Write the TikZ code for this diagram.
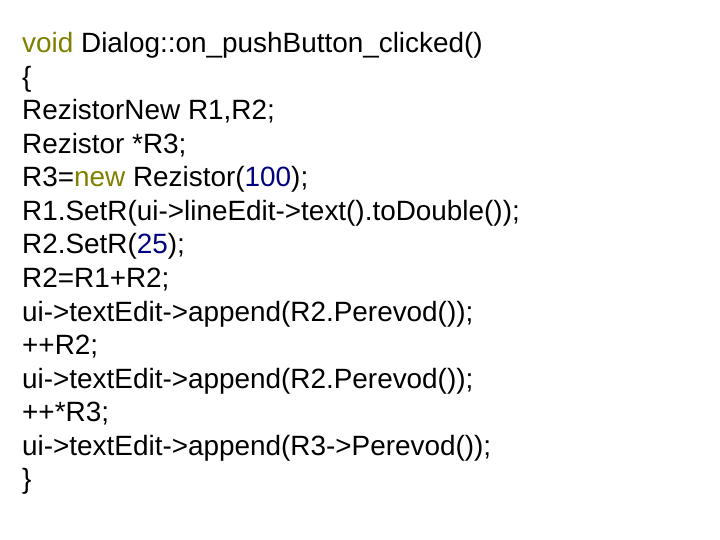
\documentclass[tikz,border=0pt]{standalone}
\usepackage{fontspec}
\setmainfont{Liberation Sans}
\definecolor{kw}{HTML}{808000}
\definecolor{num}{HTML}{000080}
\begin{document}
\begin{tikzpicture}[x=1bp,y=1bp,line/.style={anchor=base west,inner sep=0pt,font=\fontsize{28}{32}\selectfont}]
\useasboundingbox[fill=white] (0,0) rectangle (720,-540);
\node[line] (l1) at (22,-53) {\textcolor{kw}{void} Dialog::on\_pushButton\_clicked()};
\node[line] (l2) at (22,-86.5) {\{};
\node[line] (l3) at (22,-120) {RezistorNew R1,R2;};
\node[line] (l4) at (22,-153.5) {Rezistor *R3;};
\node[line] (l5) at (22,-187) {R3=\textcolor{kw}{new} Rezistor(\textcolor{num}{100});};
\node[line] (l6) at (22,-220.5) {R1.SetR(ui->lineEdit->text().toDouble());};
\node[line] (l7) at (22,-254) {R2.SetR(\textcolor{num}{25});};
\node[line] (l8) at (22,-287.5) {R2=R1+R2;};
\node[line] (l9) at (22,-321) {ui->textEdit->append(R2.Perevod());};
\node[line] (l10) at (22,-354.5) {++R2;};
\node[line] (l11) at (22,-388) {ui->textEdit->append(R2.Perevod());};
\node[line] (l12) at (22,-421.5) {++*R3;};
\node[line] (l13) at (22,-455) {ui->textEdit->append(R3->Perevod());};
\node[line] (l14) at (22,-488.5) {\}};
\end{tikzpicture}
\end{document}
